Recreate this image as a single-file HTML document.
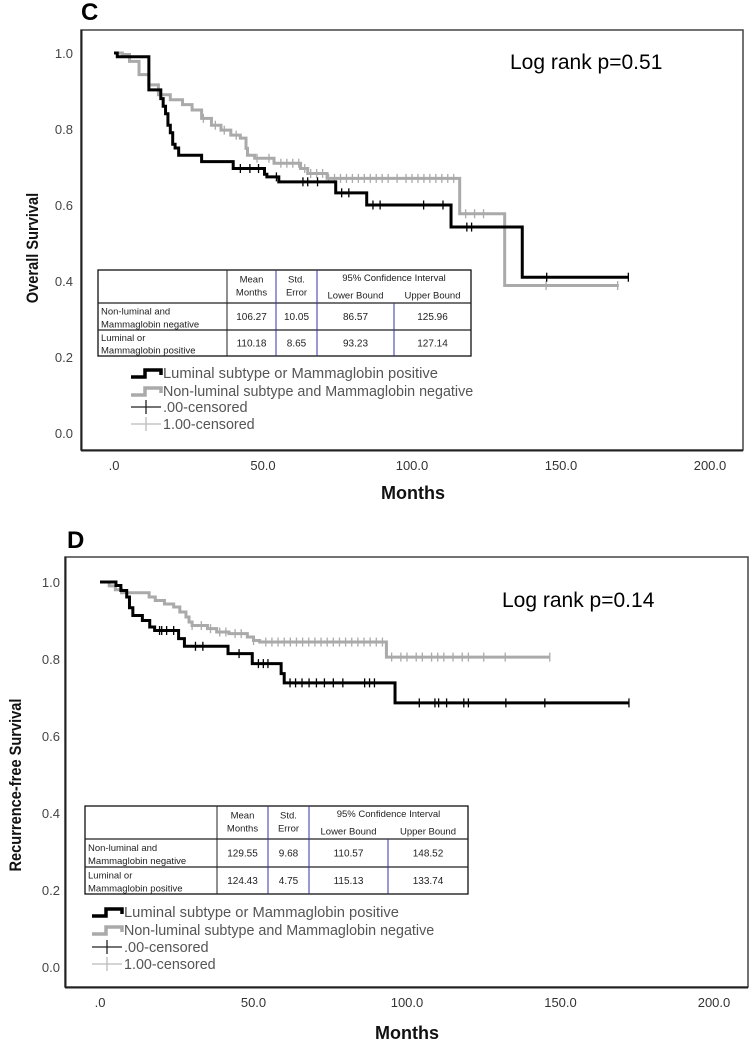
<!DOCTYPE html>
<html><head><meta charset="utf-8">
<style>
html,body{margin:0;padding:0;background:#fff;}
svg{display:block;font-family:"Liberation Sans",sans-serif;}
</style></head>
<body>
<svg id="chart" width="754" height="1050" viewBox="0 0 754 1050"></svg>
<script>
// ---------- Panel C data (Overall Survival) ----------
const cBlackSteps = [[0,1.0],[1.1,0.99],[11.7,0.903],[15.7,0.88],[16.5,0.86],[17.3,0.84],[18.1,0.81],[18.9,0.79],[19.7,0.76],[20.5,0.75],[21.7,0.731],[29.4,0.714],[40,0.696],[50.5,0.681],[51.3,0.674],[55.3,0.661],[74.4,0.632],[84.8,0.6],[113.1,0.542],[137,0.41]];
const cBlackEnd = 172.6;
const cBlackCensor = [42.4,45.6,48.5,54.5,63.4,65,68.3,76.4,78.8,86.9,89.3,103.9,110.4,118.4,120,145.2,172.6];
const cGraySteps = [[0,1.0],[2.8,0.996],[5.2,0.978],[8.4,0.943],[11.7,0.916],[14.9,0.89],[18.9,0.877],[23,0.864],[26.2,0.85],[29.4,0.828],[32.7,0.81],[35.9,0.797],[39.2,0.784],[42.4,0.776],[44.3,0.749],[44.8,0.731],[47.2,0.723],[53.7,0.71],[62.6,0.696],[65,0.683],[71.5,0.67],[116,0.577],[131.1,0.388]];
const cGrayEnd = 169.4;
const cGrayCensor = [30,34,37,41,48,52,56,58,60,62,64,66,68,70,72,74,76,78,80,82,84,86,88,90,92,95,98,100,102,104,106,108,110,112,114,118,121,124,145,169];
const cTableRows = [["Non-luminal and","Mammaglobin negative","106.27","10.05","86.57","125.96"],["Luminal or","Mammaglobin positive","110.18","8.65","93.23","127.14"]];
// ---------- Panel D data (Recurrence-free Survival) ----------
const dBlackSteps = [[0,1.0],[5.2,0.991],[6.8,0.978],[8.7,0.961],[9.6,0.933],[10.7,0.913],[13.8,0.9],[16.2,0.883],[17.8,0.874],[25.6,0.853],[27.5,0.833],[41.7,0.814],[49.6,0.788],[59,0.762],[60,0.738],[96.1,0.686]];
const dBlackEnd = 172.3;
const dBlackCensor = [19.4,20.1,21.7,24,31.1,33.5,45.3,51.6,53.2,54.7,61.9,63.7,65.8,68.1,70.5,73.1,76,79.1,86.2,87.8,89.4,104,109.1,110.3,112.9,118.5,120,132.2,144.9,172.3];
const dGraySteps = [[0,1.0],[3,0.99],[5,0.98],[7,0.972],[16,0.961],[18,0.952],[21,0.943],[24,0.935],[26,0.922],[28,0.909],[29,0.896],[30,0.887],[35,0.879],[38,0.87],[42,0.866],[48,0.857],[50,0.848],[52,0.844],[93.3,0.805]];
const dGrayEnd = 146.5;
const dGrayCensor = [30,33,36,39,41,44,46,50,54,56,58,60,62,64,66,68,70,72,74,76,78,80,82,84,86,88,90,92,95,98,100,103,105,108,110,112,115,118,120,125,132,146.5];
const dTableRows = [["Non-luminal and","Mammaglobin negative","129.55","9.68","110.57","148.52"],["Luminal or","Mammaglobin positive","124.43","4.75","115.13","133.74"]];
// ---------- shared ----------
const xTickValues = [0,50,100,150,200];
const xTickLabels = [".0","50.0","100.0","150.0","200.0"];
const yTickValues = [0,0.2,0.4,0.6,0.8,1.0];
const yTickLabels = ["0.0","0.2","0.4","0.6","0.8","1.0"];
const legendLabels = ["Luminal subtype or Mammaglobin positive","Non-luminal subtype and Mammaglobin negative",".00-censored","1.00-censored"];

const NS = "http://www.w3.org/2000/svg";
const svg = document.getElementById("chart");
function mk(tag, attrs, parent){
  const e = document.createElementNS(NS, tag);
  for (const k in attrs) e.setAttribute(k, attrs[k]);
  (parent||svg).appendChild(e);
  return e;
}
function txt(s, attrs, parent){ const t = mk("text", attrs, parent); t.textContent = s; return t; }

function panel(cfg){
  const g = mk("g", {});
  
  
  const X = m => cfg.x0 + m * cfg.xs;
  const Y = s => cfg.y0 - s * cfg.ys;

  const lab = txt(cfg.letter, {x:cfg.letterX, y:cfg.letterY, "font-size":24, "font-weight":"bold", fill:"#000"}, g);
  
  

  const fr = mk("rect", {x:cfg.fl, y:cfg.ft, width:cfg.fr-cfg.fl, height:cfg.fb-cfg.ft, fill:"none", stroke:"#444", "stroke-width":1.5}, g);
  
  
  mk("line", {x1:cfg.fl, y1:cfg.fb+0.5, x2:cfg.fr, y2:cfg.fb+0.5, stroke:"#222", "stroke-width":2}, g);
  mk("line", {x1:cfg.fl+0.5, y1:cfg.ft, x2:cfg.fl+0.5, y2:cfg.fb, stroke:"#222", "stroke-width":2}, g);

  yTickValues.forEach((v,i)=>{
    const t = txt(yTickLabels[i], {x:cfg.yLabX, y:Y(v)+5, "font-size":13, fill:"#444", "text-anchor":"end"}, g);
    
    
  });
  xTickValues.forEach((v,i)=>{
    const t = txt(xTickLabels[i], {x:X(v), y:cfg.xLabY, "font-size":13, fill:"#333", "text-anchor":"middle"}, g);
    
    
  });
  const xt = txt("Months", {x:cfg.xTitleX, y:cfg.xTitleY, "font-size":18, "font-weight":"bold", "text-anchor":"middle", fill:"#111"}, g);
  
  
  const yt = txt(cfg.yTitle, {x:0, y:0, "font-size":17, "font-weight":"bold", "text-anchor":"middle", fill:"#111", transform:`translate(${cfg.yTitleX},${cfg.yTitleY}) rotate(-90) scale(0.86,1)`}, g);
  
  

  const lr = txt(cfg.logrank, {x:cfg.lrX, y:cfg.lrY, "font-size":21, fill:"#000"}, g);
  
  

  function curve(steps, end, censor, color, name){
    let d = `M${X(steps[0][0])},${Y(steps[0][1])}`;
    for (let i=1;i<steps.length;i++){
      d += ` H${X(steps[i][0])} V${Y(steps[i][1])}`;
    }
    d += ` H${X(end)}`;
    const p = mk("path", {d:d, fill:"none", stroke:color, "stroke-width":3, "stroke-linejoin":"miter"}, g);
    
    
    censor.forEach(m=>{
      let s = steps[0][1];
      for (const st of steps) if (st[0] <= m) s = st[1];
      const l = mk("line", {x1:X(m), y1:Y(s)-4.5, x2:X(m), y2:Y(s)+4.5, stroke:color, "stroke-width":1.3}, g);
      
      
    });
  }
  curve(cfg.gray, cfg.grayEnd, cfg.grayC, "#aaaaaa", "nonluminal");
  curve(cfg.black, cfg.blackEnd, cfg.blackC, "#000000", "luminal");

  // table
  const T = cfg.table;
  const tg = mk("g", {}, g);
  
  
  mk("rect", {x:T.x[0], y:T.y[0], width:T.x[5]-T.x[0], height:T.y[3]-T.y[0], fill:"#fff", stroke:"#111", "stroke-width":1.3}, tg);
  [1,2].forEach(r=> mk("line", {x1:T.x[0], y1:T.y[r], x2:T.x[5], y2:T.y[r], stroke:"#222", "stroke-width":1.3}, tg));
  [1,2,3].forEach(c=> mk("line", {x1:T.x[c], y1:T.y[0], x2:T.x[c], y2:T.y[3], stroke:(c===1?"#222":"#3333aa"), "stroke-width":1}, tg));
  mk("line", {x1:T.x[4], y1:T.y[1], x2:T.x[4], y2:T.y[3], stroke:"#3333aa", "stroke-width":1}, tg);
  const fs = 9.5, col = "#222";
  const cx = c => (T.x[c]+T.x[c+1])/2;
  const hy = T.y[0], hh = T.y[1]-T.y[0];
  txt("Mean", {x:cx(1), y:hy+hh*0.38, "font-size":fs, "text-anchor":"middle", fill:col}, tg);
  txt("Months", {x:cx(1), y:hy+hh*0.78, "font-size":fs, "text-anchor":"middle", fill:col}, tg);
  txt("Std.", {x:cx(2), y:hy+hh*0.38, "font-size":fs, "text-anchor":"middle", fill:col}, tg);
  txt("Error", {x:cx(2), y:hy+hh*0.78, "font-size":fs, "text-anchor":"middle", fill:col}, tg);
  txt("95% Confidence Interval", {x:(T.x[3]+T.x[5])/2, y:hy+hh*0.33, "font-size":fs, "text-anchor":"middle", fill:col}, tg);
  txt("Lower Bound", {x:cx(3), y:hy+hh*0.86, "font-size":fs, "text-anchor":"middle", fill:col}, tg);
  txt("Upper Bound", {x:cx(4), y:hy+hh*0.86, "font-size":fs, "text-anchor":"middle", fill:col}, tg);
  cfg.rows.forEach((row,r)=>{
    const ry = T.y[r+1], rh = T.y[r+2]-T.y[r+1];
    txt(row[0], {x:T.x[0]+3, y:ry+rh*0.42, "font-size":fs, fill:col}, tg);
    txt(row[1], {x:T.x[0]+3, y:ry+rh*0.9, "font-size":fs, fill:col}, tg);
    for (let c=1;c<=4;c++) txt(row[c+1], {x:cx(c), y:ry+rh*0.63, "font-size":10, "text-anchor":"middle", fill:col}, tg);
  });

  // legend
  const L = cfg.legend;
  const lg = mk("g", {}, g);
  
  
  const colors = ["#000","#aaa","#222","#bbb"];
  legendLabels.forEach((s,i)=>{
    const y = L.y[i];
    const eg = mk("g", {}, lg);
    
    
    if (i<2){
      mk("path", {d:`M${L.x},${y+4} H${L.x+14} V${y-3} H${L.x+30} V${y+2}`, fill:"none", stroke:colors[i], "stroke-width":3.5}, eg);
    } else {
      mk("line", {x1:L.x, y1:y, x2:L.x+30, y2:y, stroke:colors[i], "stroke-width":1.3}, eg);
      mk("line", {x1:L.x+15, y1:y-7, x2:L.x+15, y2:y+7, stroke:colors[i], "stroke-width":1.3}, eg);
    }
    txt(s, {x:L.x+32, y:y+5, "font-size":14.5, fill:"#555", textLength:s.length*7.05, lengthAdjust:"spacingAndGlyphs"}, eg);
  });
}

panel({id:"panel-c", letter:"C", letterX:81, letterY:20, fl:81, ft:30, fr:743, fb:450,
  x0:114, xs:2.98, y0:433, ys:380, yLabX:73, xLabY:470, xTitleX:413, xTitleY:499,
  yTitle:"Overall Survival", yTitleX:38, yTitleY:248, logrank:"Log rank p=0.51", lrX:510, lrY:69,
  black:cBlackSteps, blackEnd:cBlackEnd, blackC:cBlackCensor, gray:cGraySteps, grayEnd:cGrayEnd, grayC:cGrayCensor,
  rows:cTableRows, table:{x:[98,227,276,317,394,471], y:[270,303,330,356]},
  legend:{x:131, y:373, y:[373,391,407,424]}});

panel({id:"panel-d", letter:"D", letterX:67, letterY:548, fl:65, ft:557, fr:748, fb:987,
  x0:100, xs:3.07, y0:967, ys:385, yLabX:60, xLabY:1007, xTitleX:407, xTitleY:1039,
  yTitle:"Recurrence-free Survival", yTitleX:21, yTitleY:785, logrank:"Log rank p=0.14", lrX:502, lrY:607,
  black:dBlackSteps, blackEnd:dBlackEnd, blackC:dBlackCensor, gray:dGraySteps, grayEnd:dGrayEnd, grayC:dGrayCensor,
  rows:dTableRows, table:{x:[85,217,268,309,388,468], y:[806,839,867,894]},
  legend:{x:92, y:[912,930,947,964]}});
</script>
</body></html>
